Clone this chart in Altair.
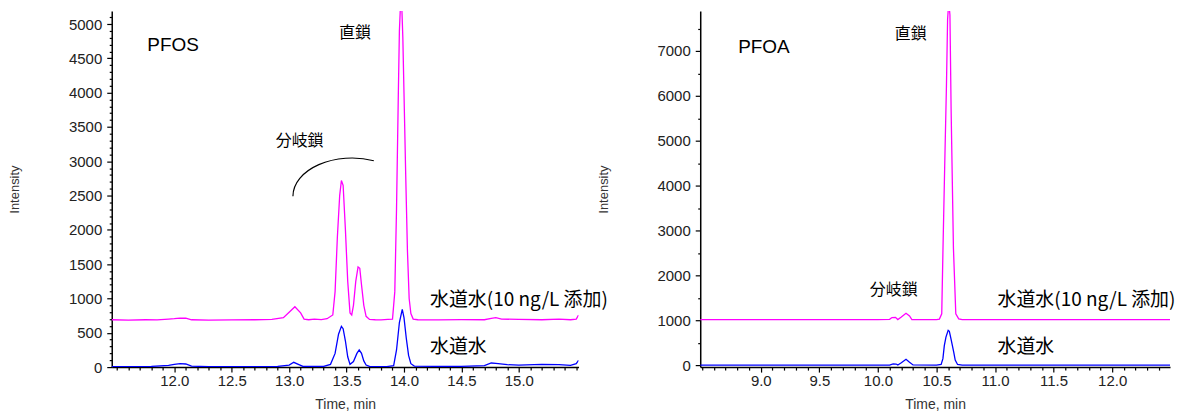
import altair as alt
import pandas as pd

# ---------------- PFOS (left panel) ----------------
pfos_spiked_t = [11.455, 11.60, 11.75, 11.85, 11.95, 12.00, 12.05, 12.10, 12.15, 12.30, 12.50, 12.70,
                 12.85, 12.95, 13.00, 13.05, 13.10, 13.13, 13.17, 13.22, 13.28, 13.33, 13.38, 13.40,
                 13.42, 13.44, 13.455, 13.47, 13.49, 13.51, 13.53, 13.545, 13.56, 13.58, 13.60, 13.615,
                 13.63, 13.65, 13.67, 13.70, 13.75, 13.80, 13.86, 13.90, 13.92, 13.935, 13.95, 13.96,
                 13.97, 13.98, 13.99, 14.00, 14.015, 14.03, 14.045, 14.06, 14.08, 14.12, 14.30, 14.50,
                 14.70, 14.76, 14.80, 14.85, 15.00, 15.20, 15.35, 15.45, 15.50, 15.52]
pfos_spiked_v = [690, 685, 690, 688, 700, 705, 715, 712, 690, 685, 688, 690,
                 695, 720, 800, 880, 790, 700, 690, 700, 692, 705, 760, 1100,
                 1900, 2500, 2720, 2650, 2000, 1250, 790, 760, 900, 1250, 1460, 1440,
                 1200, 900, 740, 695, 690, 688, 695, 700, 1100, 2300, 3900, 4900,
                 5300, 5300, 4800, 4000, 2800, 1700, 1000, 780, 700, 690, 688, 692,
                 690, 710, 720, 700, 695, 690, 698, 690, 700, 760]
pfos_tap_t = [11.455, 11.60, 11.80, 11.95, 12.00, 12.05, 12.10, 12.15, 12.30, 12.50, 12.70, 12.90,
              13.00, 13.04, 13.08, 13.12, 13.30, 13.36, 13.40, 13.43, 13.455, 13.47, 13.49, 13.51,
              13.53, 13.56, 13.59, 13.61, 13.63, 13.65, 13.67, 13.70, 13.85, 13.91, 13.935, 13.96,
              13.985, 14.00, 14.02, 14.04, 14.06, 14.09, 14.30, 14.50, 14.70, 14.76, 14.80, 14.90,
              15.00, 15.20, 15.35, 15.45, 15.50, 15.52]
pfos_tap_v = [5, 8, 10, 25, 40, 50, 45, 15, 5, 8, 5, 10,
              30, 70, 40, 10, 10, 40, 200, 480, 595, 560, 380, 150,
              40, 80, 200, 250, 200, 90, 30, 10, 8, 20, 250, 650,
              840, 720, 420, 170, 50, 15, 10, 12, 20, 60, 55, 35,
              30, 40, 35, 25, 50, 100]

# ---------------- PFOA (right panel) ----------------
pfoa_spiked_t = [8.483, 8.80, 9.20, 9.60, 10.00, 10.10, 10.12, 10.15, 10.17, 10.20, 10.24, 10.27,
                 10.29, 10.40, 10.50, 10.525, 10.545, 10.555, 10.57, 10.585, 10.595, 10.605, 10.615,
                 10.625, 10.645, 10.665, 10.69, 10.72, 11.00, 11.50, 12.00, 12.494]
pfoa_spiked_v = [1020, 1018, 1020, 1018, 1020, 1025, 1065, 1070, 1020, 1075, 1160, 1100,
                 1022, 1020, 1020, 1030, 1150, 2500, 4400, 6200, 7700, 8100, 7800,
                 5700, 2600, 1150, 1035, 1020, 1020, 1018, 1020, 1020]
pfoa_tap_t = [8.483, 9.00, 9.50, 10.00, 10.10, 10.13, 10.155, 10.17, 10.20, 10.24, 10.27, 10.30,
              10.50, 10.54, 10.555, 10.567, 10.581, 10.60, 10.61, 10.624, 10.647, 10.66, 10.68,
              10.72, 11.00, 11.50, 12.00, 12.494]
pfoa_tap_v = [5, 5, 5, 5, 8, 35, 30, 10, 60, 135, 70, 10,
              5, 20, 150, 440, 630, 780, 760, 590, 300, 120, 20,
              5, 5, 5, 5, 5]

series_names = ["水道水(10 ng/L 添加)", "水道水"]
series_colors = ["#ff00ff", "#0000ff"]

# tick values
pfos_x_ticks = [round(11.5 + 0.1 * i, 1) for i in range(41)]
pfos_y_ticks = list(range(0, 5200, 100))
pfoa_x_ticks = [round(8.5 + 0.1 * i, 1) for i in range(40)]
pfoa_y_ticks = list(range(0, 8000, 500))

# annotation texts (position in data units)
pfos_title = {"t": [11.765], "v": [4612], "label": ["PFOS"]}
pfoa_title = {"t": [8.807], "v": [6962], "label": ["PFOA"]}
pfos_notes = {"t": [13.574, 13.091], "v": [4874, 3289], "label": ["直鎖", "分岐鎖"]}
pfoa_notes = {"t": [10.28, 10.135], "v": [7384, 1684], "label": ["直鎖", "分岐鎖"]}
pfos_tags = {"t": [14.226, 14.226], "v": [985, 295], "label": series_names}
pfoa_tags = {"t": [11.021, 11.021], "v": [1462, 407], "label": series_names}
pfos_arc = {"t": [13.548], "v": [2490]}

ARC_PATH = "M -1 0 A 1 0.646 0 0 1 0.368 -0.601"

AX_FONT = "Liberation Sans"
JP_FONT = "Noto Sans CJK JP"
H = 357


def lines_df(st, sv, tt, tv):
    a = pd.DataFrame({"t": st, "v": sv, "s": series_names[0]})
    b = pd.DataFrame({"t": tt, "v": tv, "s": series_names[1]})
    return pd.concat([a, b], ignore_index=True)


def panel(df, xdom, ydom, xt, xlo, xhi, yt, ymaj, width, title, notes, tags, arc=None):
    xmajor = f"datum.value >= {xlo - 0.01} && datum.value <= {xhi + 0.01} && abs(datum.value*2 - round(datum.value*2)) < 0.01"
    ymajor = f"datum.value % {ymaj} === 0"
    xaxis = alt.Axis(
        values=xt, tickCount=200, title="Time, min", format=".1f",
        labelExpr=f"({xmajor}) ? datum.label : ''",
        tickSize={"condition": {"test": xmajor, "value": 5}, "value": 3},
        grid=False, domainColor="black", domainWidth=1.5, tickColor="black", tickWidth=1.2,
        labelFont=AX_FONT, labelFontSize=15, labelColor="#222", labelPadding=1,
        labelOverlap=False, labelFlush=False,
        titleFont=AX_FONT, titleFontSize=14, titleColor="#333", titleFontWeight="normal",
        titlePadding=10,
    )
    yaxis = alt.Axis(
        values=yt, tickCount=200, title="Intensity", format="d",
        labelExpr=f"({ymajor}) ? datum.label : ''",
        tickSize={"condition": {"test": ymajor, "value": 5}, "value": 2.5},
        grid=False, domainColor="black", domainWidth=1.5, tickColor="black", tickWidth=1.2,
        labelFont=AX_FONT, labelFontSize=15, labelColor="#222", labelPadding=5,
        labelOverlap=False,
        titleFont=AX_FONT, titleFontSize=13, titleColor="#333", titleFontWeight="normal",
        titleX=-97, titleY=H / 2, titleAngle=270, titleBaseline="middle", titleAlign="center",
    )
    x = alt.X("t:Q", scale=alt.Scale(domain=xdom, nice=False, zero=False), axis=xaxis)
    y = alt.Y("v:Q", scale=alt.Scale(domain=ydom, nice=False, zero=False), axis=yaxis)

    lines = alt.Chart(df).mark_line(strokeWidth=1.3, clip=True, interpolate="linear").encode(
        x=x, y=y,
        color=alt.Color("s:N", scale=alt.Scale(domain=series_names, range=series_colors), legend=None),
        detail="s:N",
    )
    t1 = alt.Chart(pd.DataFrame(title)).mark_text(
        font=AX_FONT, fontSize=19, align="left", baseline="alphabetic", color="black"
    ).encode(x="t:Q", y="v:Q", text="label:N")
    t2 = alt.Chart(pd.DataFrame(notes)).mark_text(
        font=JP_FONT, fontSize=16, align="center", baseline="middle", color="black"
    ).encode(x="t:Q", y="v:Q", text="label:N")
    t3 = alt.Chart(pd.DataFrame(tags)).mark_text(
        font=JP_FONT, fontSize=19, align="left", baseline="middle", color="black"
    ).encode(x="t:Q", y="v:Q", text="label:N")
    layers = [lines, t1, t2, t3]
    if arc is not None:
        a = alt.Chart(pd.DataFrame(arc)).mark_point(
            shape=ARC_PATH, size=14066, filled=False, stroke="black", strokeWidth=1.2, opacity=1
        ).encode(x="t:Q", y="v:Q")
        layers.append(a)
    return alt.layer(*layers).properties(width=width, height=H)


left = panel(lines_df(pfos_spiked_t, pfos_spiked_v, pfos_tap_t, pfos_tap_v),
             [11.455, 15.52], [0, 5190], pfos_x_ticks, 12.0, 15.0, pfos_y_ticks, 500, 468,
             pfos_title, pfos_notes, pfos_tags, pfos_arc)
right = panel(lines_df(pfoa_spiked_t, pfoa_spiked_v, pfoa_tap_t, pfoa_tap_v),
              [8.483, 12.494], [-38, 7890], pfoa_x_ticks, 9.0, 12.0, pfoa_y_ticks, 1000, 471,
              pfoa_title, pfoa_notes, pfoa_tags)

chart = alt.hconcat(left, right, spacing=122, bounds="flush").properties(
    padding={"left": 1, "top": 1.5, "right": 0, "bottom": 0},
    background="white",
).configure_view(stroke=None)

chart.save("out.html", embed_options={"renderer": "svg", "actions": False})
